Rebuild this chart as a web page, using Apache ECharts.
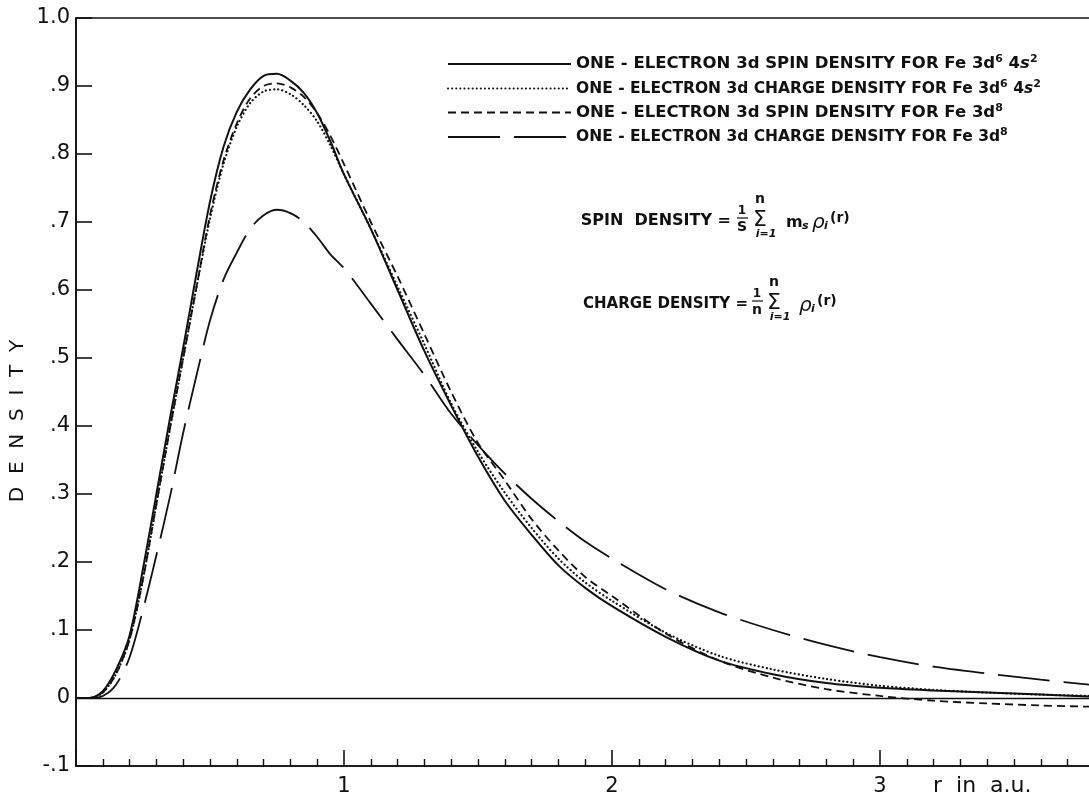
<!DOCTYPE html>
<html>
<head>
<meta charset="utf-8">
<script src="https://cdn.jsdelivr.net/npm/echarts@6/dist/echarts.min.js"></script>
<style>
  html, body { margin: 0; padding: 0; background: #fff; }
  #chart { width: 1089px; height: 801px; }
</style>
</head>
<body>
<div id="chart"></div>
<script>
// radius r in a.u.
var rValues = [0, 0.05, 0.1, 0.15, 0.2, 0.25, 0.3, 0.35, 0.4, 0.45,
  0.5, 0.55, 0.6, 0.65, 0.7, 0.75, 0.8, 0.85, 0.9, 0.95,
  1.0, 1.1, 1.2, 1.3, 1.4, 1.5, 1.6, 1.7, 1.8, 1.9,
  2.0, 2.2, 2.4, 2.6, 2.8, 3.0, 3.2, 3.4, 3.6, 3.8];

// one-electron 3d spin density, Fe 3d6 4s2 (solid)
var spin3d6 = [0, 0, 0.010, 0.042, 0.092, 0.19, 0.30, 0.41, 0.515, 0.625,
  0.73, 0.81, 0.862, 0.895, 0.915, 0.918, 0.908, 0.89, 0.86, 0.818,
  0.77, 0.69, 0.60, 0.51, 0.43, 0.355, 0.29, 0.24, 0.195, 0.162,
  0.135, 0.09, 0.055, 0.035, 0.022, 0.015, 0.011, 0.008, 0.005, 0.002];

// one-electron 3d charge density, Fe 3d6 4s2 (dotted)
var charge3d6 = [0, 0, 0.008, 0.036, 0.086, 0.175, 0.285, 0.395, 0.50, 0.605,
  0.705, 0.785, 0.84, 0.875, 0.892, 0.895, 0.888, 0.872, 0.848, 0.812,
  0.77, 0.69, 0.605, 0.52, 0.433, 0.362, 0.302, 0.25, 0.205, 0.17,
  0.143, 0.096, 0.062, 0.042, 0.028, 0.018, 0.012, 0.008, 0.005, 0.003];

// one-electron 3d spin density, Fe 3d8 (short dashes)
var spin3d8 = [0, 0, 0.008, 0.036, 0.086, 0.175, 0.285, 0.395, 0.50, 0.605,
  0.71, 0.79, 0.845, 0.882, 0.90, 0.904, 0.898, 0.884, 0.86, 0.826,
  0.785, 0.70, 0.62, 0.535, 0.45, 0.375, 0.32, 0.263, 0.217, 0.178,
  0.15, 0.095, 0.055, 0.03, 0.013, 0.003, -0.004, -0.008, -0.011, -0.013];

// one-electron 3d charge density, Fe 3d8 (long dashes)
var charge3d8 = [0, 0, 0.003, 0.02, 0.06, 0.13, 0.21, 0.295, 0.39, 0.475,
  0.555, 0.615, 0.655, 0.69, 0.71, 0.718, 0.713, 0.70, 0.678, 0.652,
  0.632, 0.58, 0.527, 0.475, 0.418, 0.372, 0.33, 0.293, 0.26, 0.23,
  0.205, 0.16, 0.126, 0.1, 0.078, 0.06, 0.046, 0.036, 0.027, 0.019];

var seriesNames = ['spin3d6', 'charge3d6', 'spin3d8', 'charge3d8'];
var legendLabels = {
  spin3d6: '{t|ONE - ELECTRON 3d SPIN DENSITY FOR Fe 3d}{sup|6}{t| 4}{it|s}{sup|2}',
  charge3d6: '{c|ONE - ELECTRON 3d CHARGE DENSITY FOR Fe 3d}{sup|6}{c| 4}{itc|s}{sup|2}',
  spin3d8: '{t|ONE - ELECTRON 3d SPIN DENSITY FOR Fe 3d}{sup|8}',
  charge3d8: '{c|ONE - ELECTRON 3d CHARGE DENSITY FOR Fe 3d}{sup|8}'
};
var yTickLabels = ['-.1', '0', '.1', '.2', '.3', '.4', '.5', '.6', '.7', '.8', '.9', '1.0'];
var xTickLabels = ['', '1', '2', '3', ''];

var FONT = '"DejaVu Sans", "Liberation Sans", sans-serif';

function pairs(vals) {
  return rValues.map(function (r, i) { return [r, vals[i]]; });
}

var myechart = echarts.init(document.getElementById('chart'));

function txt(x, y, s, size, opts) {
  opts = opts || {};
  var el = {
    type: 'text', x: x, y: y, silent: true,
    style: {
      text: s,
      font: (opts.italic ? 'italic ' : '') + (opts.weight || 'normal') + ' ' + size + 'px ' + FONT,
      fill: '#111',
      textAlign: opts.align || 'left',
      textVerticalAlign: 'middle'
    }
  };
  if (opts.rotation) el.rotation = opts.rotation;
  return el;
}
function bar(x1, x2, y) {
  return { type: 'line', silent: true, shape: { x1: x1, y1: y, x2: x2, y2: y }, style: { stroke: '#111', lineWidth: 1.2 } };
}
function rich(size, italic) {
  return { fontSize: size, fontFamily: FONT, fontWeight: 'bold', fontStyle: italic ? 'italic' : 'normal', color: '#111', lineHeight: 20 };
}

var option = {
  animation: false,
  backgroundColor: '#fff',
  grid: {
    left: 76, top: 18, right: -59, bottom: 35,
    containLabel: false, outerBoundsMode: 'none',
    show: true, borderColor: '#111', borderWidth: 1.6, backgroundColor: 'transparent'
  },
  legend: {
    orient: 'vertical',
    left: 447, top: 54, padding: 0,
    itemWidth: 123, itemHeight: 14, itemGap: 6,
    selectedMode: false,
    data: seriesNames,
    itemStyle: { color: 'rgba(0,0,0,0)', borderColor: 'rgba(0,0,0,0)', borderWidth: 0, opacity: 0 },
    formatter: function (name) { return legendLabels[name]; },
    textStyle: {
      color: '#111',
      rich: {
        t: rich(16.5, false),
        it: rich(16.5, true),
        c: rich(15.5, false),
        itc: rich(15.5, true),
        sup: { fontSize: 11, fontFamily: FONT, fontWeight: 'bold', color: '#111', verticalAlign: 'top', lineHeight: 11 }
      }
    }
  },
  xAxis: {
    type: 'value', min: 0, max: 4, interval: 1,
    axisLine: { onZero: false, lineStyle: { color: '#111', width: 1.6 } },
    axisTick: { show: true, inside: true, length: 16, lineStyle: { color: '#111', width: 1.6 } },
    minorTick: { show: true, splitNumber: 10, length: 7, lineStyle: { color: '#111', width: 1.4 } },
    splitLine: { show: false },
    axisLabel: {
      margin: 10, color: '#111', fontSize: 21, fontFamily: FONT,
      formatter: function (v) { return xTickLabels[Math.round(v)] || ''; }
    }
  },
  yAxis: {
    type: 'value', min: -0.1, max: 1.0, interval: 0.1,
    axisLine: { show: true, onZero: false, lineStyle: { color: '#111', width: 1.6 } },
    axisTick: { show: true, inside: true, length: 16, lineStyle: { color: '#111', width: 1.6 } },
    splitLine: { show: false },
    axisLabel: {
      margin: 6, color: '#111', fontSize: 21, fontFamily: FONT,
      formatter: function (v) { return yTickLabels[Math.round(v * 10) + 1]; }
    }
  },
  series: [
    {
      name: 'spin3d6', type: 'line', data: pairs(spin3d6), symbol: 'none', smooth: 0.3,
      itemStyle: { color: '#111' },
      lineStyle: { color: '#111', width: 2, type: 'solid' },
      markLine: {
        silent: true, symbol: ['none', 'none'], label: { show: false },
        lineStyle: { color: '#111', width: 1.4, type: 'solid' },
        data: [{ yAxis: 0 }]
      }
    },
    {
      name: 'charge3d6', type: 'line', data: pairs(charge3d6), symbol: 'none', smooth: 0.3,
      itemStyle: { color: '#111' },
      lineStyle: { color: '#111', width: 2.2, type: [0.1, 4], cap: 'round' }
    },
    {
      name: 'spin3d8', type: 'line', data: pairs(spin3d8), symbol: 'none', smooth: 0.3,
      itemStyle: { color: '#111' },
      lineStyle: { color: '#111', width: 1.8, type: [8, 5] }
    },
    {
      name: 'charge3d8', type: 'line', data: pairs(charge3d8), symbol: 'none', smooth: 0.3,
      itemStyle: { color: '#111' },
      lineStyle: { color: '#111', width: 1.8, type: [52, 14] }
    }
  ],
  graphic: [
    txt(18, 421, 'D  E  N  S  I  T  Y', 20, { align: 'center', rotation: Math.PI / 2 }),
    txt(933, 786, 'r  in  a.u.', 22),
    // spin density formula
    txt(731, 221, 'SPIN  DENSITY =', 16, { weight: 'bold', align: 'right' }),
    txt(742, 211, '1', 12, { weight: 'bold', align: 'center' }),
    bar(737, 748, 218),
    txt(742, 227, 'S', 14, { weight: 'bold', align: 'center' }),
    txt(760, 220, 'Σ', 22, { align: 'center' }),
    txt(760, 199, 'n', 14, { weight: 'bold', align: 'center' }),
    txt(766, 234, 'i=1', 11, { italic: true, weight: 'bold', align: 'center' }),
    txt(786, 223, 'm', 16, { weight: 'bold' }),
    txt(802, 226, 's', 11, { italic: true, weight: 'bold' }),
    txt(812, 223, 'ρ', 20, { italic: true }),
    txt(824, 226, 'i', 11, { italic: true, weight: 'bold' }),
    txt(830, 218, '(r)', 14, { weight: 'bold' }),
    // charge density formula
    txt(583, 304, 'CHARGE DENSITY =', 15, { weight: 'bold' }),
    txt(757, 294, '1', 12, { weight: 'bold', align: 'center' }),
    bar(752, 763, 301),
    txt(757, 310, 'n', 14, { weight: 'bold', align: 'center' }),
    txt(774, 303, 'Σ', 22, { align: 'center' }),
    txt(774, 282, 'n', 14, { weight: 'bold', align: 'center' }),
    txt(780, 317, 'i=1', 11, { italic: true, weight: 'bold', align: 'center' }),
    txt(799, 306, 'ρ', 20, { italic: true }),
    txt(811, 309, 'i', 11, { italic: true, weight: 'bold' }),
    txt(817, 301, '(r)', 14, { weight: 'bold' })
  ]
};
myechart.setOption(option);
</script>
</body>
</html>
